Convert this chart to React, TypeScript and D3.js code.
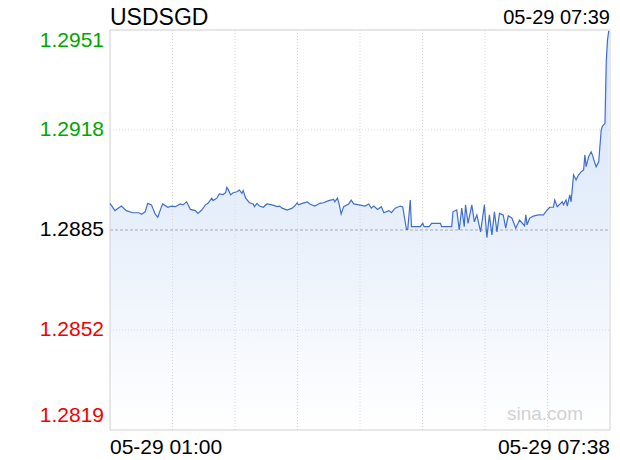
import * as d3 from 'd3';

// minutes after 05-29 01:00
const minutes = [
  0, 4, 9, 13, 18, 23, 25, 28, 30, 33, 36, 38, 41, 42, 46, 49, 52, 56, 58, 61,
  64, 68, 70, 73, 76, 78, 81, 82, 85, 87, 90, 92, 93, 94, 96, 98, 101, 103, 105, 106,
  108, 111, 114, 115, 117, 119, 122, 125, 129, 133, 135, 137, 141, 145, 147, 149, 150, 153, 157, 159,
  163, 167, 170, 174, 178, 179, 181, 182, 184, 186, 190, 192, 194, 198, 203, 206, 208, 210, 213, 216,
  218, 222, 224, 227, 231, 233, 236, 237, 239, 240, 247, 249, 250, 254, 256, 263, 264, 272, 273, 276,
  278, 280, 282, 283, 285, 288, 290, 292, 295, 298, 300, 302, 304, 306, 308, 310, 313, 315, 317, 320,
  323, 326, 330, 331, 332, 334, 337, 341, 345, 348, 350, 353, 354, 356, 360, 361, 363, 364, 366, 367,
  369, 371, 373, 375, 377, 378, 379, 381, 383, 384, 386, 387, 389, 391, 392, 394, 395, 396, 397,
];

const prices = [
  1.28938, 1.28914, 1.28929, 1.28914, 1.28907, 1.28907, 1.28902, 1.2891, 1.28938, 1.28933,
  1.28902, 1.28892, 1.28927, 1.28936, 1.28925, 1.28929, 1.28927, 1.28936, 1.28933, 1.28943,
  1.28918, 1.28914, 1.28905, 1.28916, 1.28933, 1.28938, 1.28955, 1.28947, 1.28955, 1.28969,
  1.28967, 1.28973, 1.28991, 1.28984, 1.28966, 1.28973, 1.28976, 1.28982, 1.28971, 1.2898,
  1.28955, 1.2894, 1.28936, 1.28927, 1.28938, 1.28929, 1.28925, 1.28936, 1.28933, 1.28927,
  1.28929, 1.28922, 1.28916, 1.28922, 1.28929, 1.2894, 1.28933, 1.28938, 1.28943, 1.28936,
  1.28929, 1.28938, 1.2894, 1.28947, 1.28951, 1.28943, 1.28955, 1.28943, 1.28903, 1.28927,
  1.28936, 1.28949, 1.28936, 1.28933, 1.28929, 1.28936, 1.28922, 1.28929, 1.28918, 1.28927,
  1.28907, 1.28914, 1.28907, 1.28922, 1.28929, 1.28926, 1.28852, 1.28852, 1.28949, 1.28861,
  1.28861, 1.28872, 1.28861, 1.28861, 1.28872, 1.28872, 1.28861, 1.28861, 1.2891, 1.28916,
  1.2885, 1.28922, 1.28861, 1.28933, 1.28872, 1.28933, 1.28877, 1.289, 1.28844, 1.28933,
  1.28825, 1.289, 1.28834, 1.2891, 1.28844, 1.28905, 1.289, 1.28856, 1.28897, 1.28889,
  1.28856, 1.28883, 1.28864, 1.289, 1.28867, 1.28889, 1.28896, 1.289, 1.289, 1.28916,
  1.28925, 1.28925, 1.28949, 1.28927, 1.28943, 1.28933, 1.28949, 1.28929, 1.28966, 1.28943,
  1.29032, 1.29015, 1.29032, 1.29042, 1.29048, 1.29098, 1.29059, 1.29092, 1.29108, 1.29098,
  1.2907, 1.29059, 1.29075, 1.2918, 1.29193, 1.29202, 1.29405, 1.29477, 1.29507,
];

const yTicks = [1.2951, 1.2918, 1.2885, 1.2852, 1.2819];
const prevClose = 1.2885;
const symbol = 'USDSGD';
const stamp = '05-29 07:39';
const startLabel = '05-29 01:00';
const endLabel = '05-29 07:38';
const totalMinutes = 398;

const W = 620;
const H = 460;
const left = 110, right = 610, top = 30, bottom = 430;

export default function App() {
  const x = d3.scaleLinear().domain([0, totalMinutes]).range([left, right]);
  const y = d3.scaleLinear().domain([yTicks[4], yTicks[0]]).range([bottom, top]);

  const pts: [number, number][] = minutes.map((m, i) => [m, prices[i]]);
  const line = d3.line<[number, number]>().x(d => x(d[0])).y(d => y(d[1]));
  const area = d3.area<[number, number]>().x(d => x(d[0])).y0(bottom).y1(d => y(d[1]));

  const vCols = d3.range(1, 8).map(i => left + (i * (right - left)) / 8);
  const font = 'Liberation Sans, Arial, Helvetica, sans-serif';

  const tickColor = (v: number) => (v > prevClose ? '#00a600' : v < prevClose ? '#f20000' : '#000');

  return (
    <svg width={W} height={H} style={{ position: 'absolute', left: 0, top: 0, background: '#fff' }} fontFamily={font}>
      <defs>
        <linearGradient id="fill" gradientUnits="userSpaceOnUse" x1="0" y1={top} x2="0" y2={bottom}>
          <stop offset="0" stopColor="#d2e1f8" />
          <stop offset="1" stopColor="#ffffff" />
        </linearGradient>
      </defs>

      <path d={area(pts) ?? ''} fill="url(#fill)" />

      {vCols.map(vx => (
        <line key={vx} x1={vx} x2={vx} y1={top} y2={bottom} stroke="#d8d8d8" strokeDasharray="1,2" />
      ))}
      {yTicks.slice(1, 4).map(v => (
        <line key={v} x1={left} x2={right} y1={y(v)} y2={y(v)}
          stroke={v === prevClose ? '#a8a8b8' : '#d8d8d8'}
          strokeDasharray={v === prevClose ? '3,2' : '1,2'} />
      ))}

      <rect x={left} y={top} width={right - left} height={bottom - top} fill="none" stroke="#d0d0d0" />

      <text x={545} y={420} fontSize={19} fill="#d2d2d2" textAnchor="middle">sina.com</text>

      <path d={line(pts) ?? ''} fill="none" stroke="#3f6fce" strokeWidth={1.2} />

      {yTicks.map((v, i) => {
        const ty = i === 0 ? y(v) + 10 : i === yTicks.length - 1 ? y(v) - 15 : y(v) - 1;
        return (
          <text key={v} x={104} y={ty} dy="0.35em" textAnchor="end" fontSize={21} fill={tickColor(v)}>
            {v.toFixed(4)}
          </text>
        );
      })}

      <text x={left} y={25} fontSize={23} fill="#000">{symbol}</text>
      <text x={right} y={24} fontSize={20} fill="#000" textAnchor="end">{stamp}</text>
      <text x={left} y={454} fontSize={21} fill="#000">{startLabel}</text>
      <text x={right} y={454} fontSize={21} fill="#000" textAnchor="end">{endLabel}</text>
    </svg>
  );
}
